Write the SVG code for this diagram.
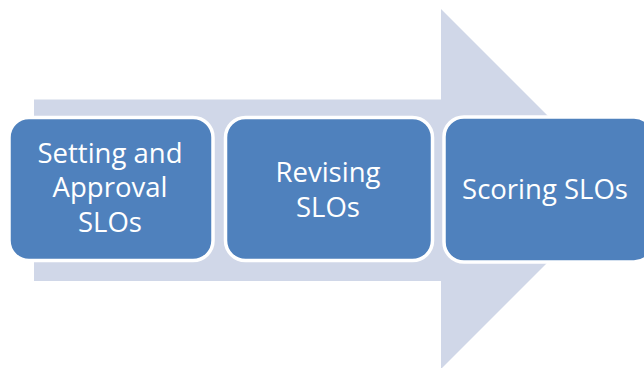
<svg xmlns="http://www.w3.org/2000/svg" width="644" height="368" viewBox="0 0 644 368">
<style>
.box{fill:#4F81BD;stroke:#FFFFFF;stroke-width:3.5}
.lbl{fill:#FFFFFF;font-family:"Open Sans","Liberation Sans",sans-serif;font-size:27.5px;text-anchor:middle}
</style>
<rect width="644" height="368" fill="#FFFFFF"/>
<g id="connectors">
<polygon id="arrow" points="34,99.5 441,99.5 441,9 621,189 441,369 441,281 34,281" fill="#D0D7E8"/>
</g>
<g id="node1">
<rect class="box" x="9" y="117.5" width="204" height="143" rx="20"/>
<text class="lbl" x="110" y="163">Setting and</text>
<text class="lbl" x="110" y="197">Approval</text>
<text class="lbl" x="110" y="232">SLOs</text>
</g>
<g id="node2">
<rect class="box" x="225.5" y="117.5" width="207" height="143" rx="20"/>
<text class="lbl" x="328" y="182">Revising</text>
<text class="lbl" x="328" y="217">SLOs</text>
</g>
<g id="node3">
<rect class="box" x="444" y="117" width="210" height="145" rx="20"/>
<text class="lbl" x="545" y="199">Scoring SLOs</text>
</g>
</svg>
